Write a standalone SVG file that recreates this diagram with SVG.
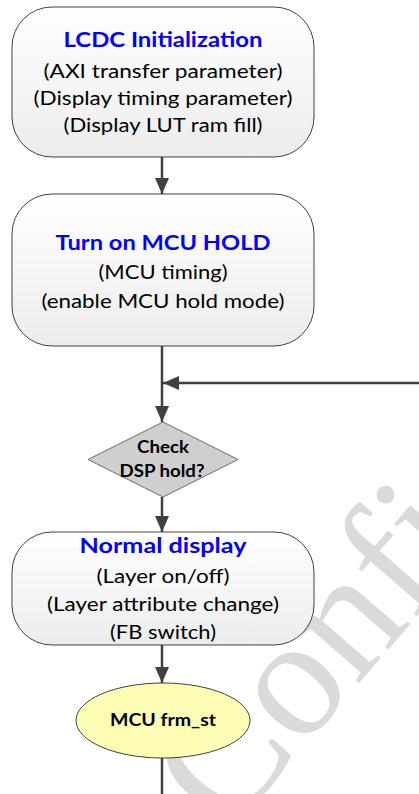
<svg xmlns="http://www.w3.org/2000/svg" width="419" height="794" viewBox="0 0 419 794">
  <style>
    .box { stroke: #404040; stroke-width: 1; fill: url(#boxFill); }
    .title { font-family: Lato, "Liberation Sans", sans-serif; font-weight: bold; font-size: 21px; fill: #0000ff; text-anchor: middle; }
    .body { font-family: Lato, "Liberation Sans", sans-serif; font-size: 19.5px; fill: #000000; text-anchor: middle; }
    .bold { font-family: Lato, "Liberation Sans", sans-serif; font-weight: bold; font-size: 16.5px; fill: #000000; text-anchor: middle; }
    .wire { stroke: #404040; stroke-width: 2.5; fill: none; }
    .mark { font-family: "Liberation Serif", serif; font-size: 170px; fill: #dadada; }
  </style>
  <defs>
    <linearGradient id="boxFill" x1="0" y1="0" x2="0" y2="1">
      <stop offset="0" stop-color="#ffffff"/>
      <stop offset="1" stop-color="#ececec"/>
    </linearGradient>
    <marker id="arrow" viewBox="0 0 16 14" refX="16" refY="7" markerWidth="16" markerHeight="14" markerUnits="userSpaceOnUse" orient="auto">
      <path d="M0,0 L16,7 L0,14 Z" fill="#404040"/>
    </marker>
  </defs>
  <rect width="419" height="794" fill="#ffffff"/>

  <!-- diagonal watermark, drawn behind the chart -->
  <text class="mark" transform="translate(226,836) rotate(-49)">Confidential</text>

  <g id="connectors">
    <line class="wire" x1="162" y1="157" x2="162" y2="194" marker-end="url(#arrow)"/>
    <line class="wire" x1="162" y1="346" x2="162" y2="422" marker-end="url(#arrow)"/>
    <line class="wire" x1="419" y1="383" x2="163" y2="383" marker-end="url(#arrow)"/>
    <line class="wire" x1="162" y1="497" x2="162" y2="532" marker-end="url(#arrow)"/>
    <line class="wire" x1="162" y1="645" x2="162" y2="683" marker-end="url(#arrow)"/>
    <line class="wire" x1="162" y1="758" x2="162" y2="794"/>
  </g>

  <g id="lcdc-init">
    <rect class="box" x="12" y="7" width="302" height="150" rx="40" ry="40"/>
    <text class="title" x="163" y="47" textLength="199" lengthAdjust="spacingAndGlyphs">LCDC Initialization</text>
    <text class="body" x="163" y="78" textLength="239" lengthAdjust="spacingAndGlyphs">(AXI transfer parameter)</text>
    <text class="body" x="163" y="105" textLength="259" lengthAdjust="spacingAndGlyphs">(Display timing parameter)</text>
    <text class="body" x="163" y="132" textLength="199" lengthAdjust="spacingAndGlyphs">(Display LUT ram fill)</text>
  </g>

  <g id="mcu-hold">
    <rect class="box" x="12" y="194" width="302" height="152" rx="40" ry="40"/>
    <text class="title" x="163" y="250" textLength="215" lengthAdjust="spacingAndGlyphs">Turn on MCU HOLD</text>
    <text class="body" x="163" y="279" textLength="129" lengthAdjust="spacingAndGlyphs">(MCU timing)</text>
    <text class="body" x="163" y="308" textLength="243" lengthAdjust="spacingAndGlyphs">(enable MCU hold mode)</text>
  </g>

  <g id="check-dsp">
    <polygon points="163,422 238,459.5 163,497 88,459.5" fill="#cfcfcf" stroke="#6a6a6a" stroke-width="1"/>
    <text class="bold" x="163" y="453" textLength="52" lengthAdjust="spacingAndGlyphs">Check</text>
    <text class="bold" x="162" y="477" textLength="85" lengthAdjust="spacingAndGlyphs">DSP hold?</text>
  </g>

  <g id="normal-display">
    <rect class="box" x="12" y="532" width="302" height="113" rx="40" ry="40"/>
    <text class="title" x="163" y="553" textLength="167" lengthAdjust="spacingAndGlyphs">Normal display</text>
    <text class="body" x="163" y="583" textLength="133" lengthAdjust="spacingAndGlyphs">(Layer on/off)</text>
    <text class="body" x="163" y="611" textLength="232" lengthAdjust="spacingAndGlyphs">(Layer attribute change)</text>
    <text class="body" x="163" y="639" textLength="106" lengthAdjust="spacingAndGlyphs">(FB switch)</text>
  </g>

  <g id="mcu-frm-st">
    <ellipse cx="163" cy="720.5" rx="87" ry="37.5" fill="#fcfcb4" stroke="#404040" stroke-width="1"/>
    <text class="bold" x="163" y="726" textLength="106" lengthAdjust="spacingAndGlyphs">MCU frm_st</text>
  </g>
</svg>
